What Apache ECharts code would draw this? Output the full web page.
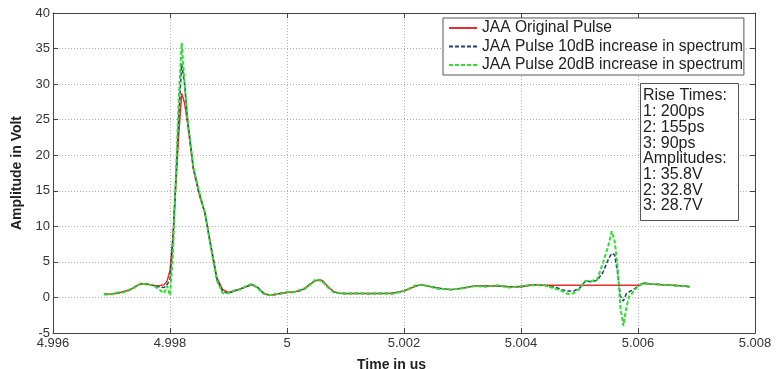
<!DOCTYPE html>
<html>
<head>
<meta charset="utf-8">
<script src="https://cdn.jsdelivr.net/npm/echarts@6/dist/echarts.min.js"></script>
<style>
  html, body { margin: 0; padding: 0; background: #fff; }
  #chart { width: 776px; height: 369px; }
</style>
</head>
<body>
<div id="chart"></div>
<script>
// Sample times (us)
const time = [
  4.99687, 4.9969, 4.9970, 4.9971, 4.9972, 4.9973, 4.9974, 4.9975, 4.9976, 4.9977,
  4.9978, 4.9979, 4.99795, 4.9980, 4.99805, 4.9981, 4.99815, 4.9982, 4.99825, 4.9983,
  4.9984, 4.9985, 4.9986, 4.9987, 4.9988, 4.9989, 4.9990, 4.9991, 4.9992, 4.9993,
  4.9994, 4.9995, 4.9996, 4.9997, 4.9998, 4.9999, 5.0000, 5.0001, 5.0002, 5.0003,
  5.0004, 5.0005, 5.0006, 5.0007, 5.0008, 5.0009, 5.0010, 5.0012, 5.0014, 5.0016,
  5.0018, 5.0020, 5.0022, 5.0023, 5.0024, 5.0026, 5.0028, 5.0030, 5.0032, 5.0034,
  5.0036, 5.0038, 5.0040, 5.0042, 5.0044, 5.0046, 5.0047, 5.0048, 5.0049, 5.0050,
  5.0051, 5.0052, 5.0053, 5.0054, 5.0055, 5.00555, 5.0056, 5.00565, 5.0057, 5.00575,
  5.0058, 5.00585, 5.0059, 5.0060, 5.0061, 5.0062, 5.0064, 5.0066, 5.0068, 5.00688
];

// Amplitudes (V)
const originalPulse = [
  0.45, 0.5, 0.5, 0.6, 0.8, 1.0, 1.5, 1.9, 1.9, 1.7,
  1.6, 1.8, 2.3, 3.8, 8.5, 16, 23, 28.7, 27.3, 24.5,
  18.0, 14.5, 11.8, 7.2, 2.8, 1.1, 0.7, 0.9, 1.2, 1.5,
  1.8, 1.4, 0.6, 0.3, 0.4, 0.6, 0.7, 0.75, 0.9, 1.2,
  1.9, 2.4, 2.4, 1.5, 0.8, 0.6, 0.55, 0.55, 0.55, 0.55,
  0.6, 0.9, 1.6, 1.8, 1.6, 1.3, 1.1, 1.3, 1.6, 1.6,
  1.6, 1.5, 1.5, 1.8, 1.7, 1.7, 1.7, 1.7, 1.7, 1.7,
  1.7, 1.7, 1.7, 1.7, 1.7, 1.7, 1.7, 1.7, 1.7, 1.7,
  1.7, 1.7, 1.7, 1.7, 2.0, 1.9, 1.8, 1.7, 1.6, 1.5
];

const pulse10dB = [
  0.45, 0.5, 0.5, 0.6, 0.8, 1.0, 1.5, 1.9, 1.9, 1.7,
  1.5, 1.4, 1.8, 2.5, 8.0, 16.5, 25.5, 32.8, 30.0, 25.0,
  18.2, 14.6, 11.8, 7.1, 2.6, 0.8, 0.6, 0.9, 1.2, 1.5,
  1.8, 1.4, 0.6, 0.3, 0.4, 0.6, 0.7, 0.75, 0.9, 1.2,
  1.9, 2.5, 2.4, 1.5, 0.8, 0.6, 0.55, 0.55, 0.55, 0.55,
  0.6, 0.9, 1.6, 1.8, 1.6, 1.3, 1.1, 1.3, 1.6, 1.6,
  1.6, 1.5, 1.5, 1.8, 1.7, 1.4, 1.1, 0.9, 0.9, 1.3,
  2.3, 2.2, 2.4, 3.5, 5.5, 6.2, 6.0, 3.5, 0.2, -0.5,
  0.5, 0.8, 1.0, 1.6, 2.0, 1.9, 1.8, 1.7, 1.6, 1.5
];

const pulse20dB = [
  0.4, 0.5, 0.45, 0.7, 0.7, 1.1, 1.4, 2.0, 1.8, 1.8,
  1.2, 0.6, 1.6, 0.3, 6.0, 17, 28, 35.8, 30.0, 25.0,
  18.3, 14.8, 11.8, 7.0, 2.4, 0.6, 0.6, 1.0, 1.1, 1.6,
  1.9, 1.3, 0.5, 0.3, 0.5, 0.5, 0.8, 0.7, 1.0, 1.3,
  1.8, 2.6, 2.3, 1.4, 0.7, 0.6, 0.5, 0.6, 0.5, 0.6,
  0.5, 0.9, 1.7, 1.8, 1.6, 1.2, 1.1, 1.3, 1.6, 1.5,
  1.7, 1.4, 1.6, 1.7, 1.7, 1.2, 0.9, 0.5, 0.6, 1.2,
  2.3, 2.3, 2.5, 4.8, 7.5, 9.3, 8.0, 4.5, -1.5, -4.0,
  -1.5, 0.2, 0.6, 1.6, 2.0, 1.9, 1.8, 1.7, 1.6, 1.5
];

const seriesNames = [
  'JAA Original Pulse',
  'JAA Pulse 10dB increase in spectrum',
  'JAA Pulse 20dB increase in spectrum'
];

const noteLines = [
  'Rise Times:', '1: 200ps', '2: 155ps', '3: 90ps',
  'Amplitudes:', '1: 35.8V', '2: 32.8V', '3: 28.7V'
];

const FONT = '"Liberation Sans", Arial, sans-serif';
const pair = (vals) => time.map((t, i) => [t, vals[i]]);

const axisLineStyle = { color: '#444', width: 1 };
const gridLine = { show: true, lineStyle: { color: '#b0b0b0', type: [1, 2], width: 1 } };

const chart = echarts.init(document.getElementById('chart'), null, { renderer: 'canvas' });

chart.setOption({
  animation: false,
  backgroundColor: '#fff',
  grid: { left: 53, right: 21, top: 13, bottom: 36, containLabel: false },
  xAxis: [
    {
      type: 'value', min: 4.996, max: 5.008, interval: 0.002,
      axisLine: { show: true, onZero: false, lineStyle: axisLineStyle },
      axisTick: { show: true, inside: true, length: 5, lineStyle: axisLineStyle },
      axisLabel: {
        color: '#333', fontFamily: FONT, fontSize: 13, margin: 4,
        formatter: (v) => String(+v.toFixed(3))
      },
      splitLine: gridLine
    },
    {
      type: 'value', position: 'top', min: 4.996, max: 5.008, interval: 0.002,
      axisLine: { show: true, onZero: false, lineStyle: axisLineStyle },
      axisTick: { show: true, inside: true, length: 5, lineStyle: axisLineStyle },
      axisLabel: { show: false },
      splitLine: { show: false }
    }
  ],
  yAxis: [
    {
      type: 'value', min: -5, max: 40, interval: 5,
      name: 'Amplitude in Volt', nameLocation: 'middle', nameGap: 27,
      nameTextStyle: { color: '#222', fontFamily: FONT, fontSize: 14, fontWeight: 'bold' },
      axisLine: { show: true, onZero: false, lineStyle: axisLineStyle },
      axisTick: { show: true, inside: true, length: 5, lineStyle: axisLineStyle },
      axisLabel: { color: '#333', fontFamily: FONT, fontSize: 13, margin: 3 },
      splitLine: gridLine
    },
    {
      type: 'value', position: 'right', min: -5, max: 40, interval: 5,
      axisLine: { show: true, onZero: false, lineStyle: axisLineStyle },
      axisTick: { show: true, inside: true, length: 5, lineStyle: axisLineStyle },
      axisLabel: { show: false },
      splitLine: { show: false }
    }
  ],
  legend: {
    left: 443, top: 18, orient: 'vertical',
    itemWidth: 28, itemHeight: 14, itemGap: 2.5,
    padding: [2, 1, 2, 5],
    borderColor: '#555', borderWidth: 1, backgroundColor: '#fff',
    itemStyle: { opacity: 0 },
    textStyle: { color: '#222', fontFamily: FONT, fontSize: 15.6 },
    data: seriesNames
  },
  series: [
    {
      name: seriesNames[0], type: 'line', symbol: 'none', data: pair(originalPulse),
      lineStyle: { color: '#e3302b', width: 1.5 }, itemStyle: { color: '#e3302b' }, z: 3
    },
    {
      name: seriesNames[1], type: 'line', symbol: 'none', data: pair(pulse10dB),
      lineStyle: { color: '#27406e', width: 1.5, type: [4, 2] }, itemStyle: { color: '#27406e' }, z: 4
    },
    {
      name: seriesNames[2], type: 'line', symbol: 'none', data: pair(pulse20dB),
      lineStyle: { color: '#2ee02e', width: 2, type: [4, 2] }, itemStyle: { color: '#2ee02e' }, z: 5
    }
  ],
  graphic: [
    {
      type: 'rect', left: 640, top: 83, z: 100,
      shape: { width: 98, height: 137 },
      style: { fill: '#fff', stroke: '#555', lineWidth: 1 }
    },
    {
      type: 'text', left: 643, top: 88, z: 101,
      style: { text: noteLines.join('\n'), fill: '#222', font: '16px ' + FONT, lineHeight: 15.7 }
    },
    {
      type: 'text', left: 357, top: 358, z: 101,
      style: {
        text: 'Time in us', fill: '#222', font: 'bold 14px ' + FONT,
        align: 'center', verticalAlign: 'middle'
      }
    }
  ]
});
</script>
</body>
</html>
